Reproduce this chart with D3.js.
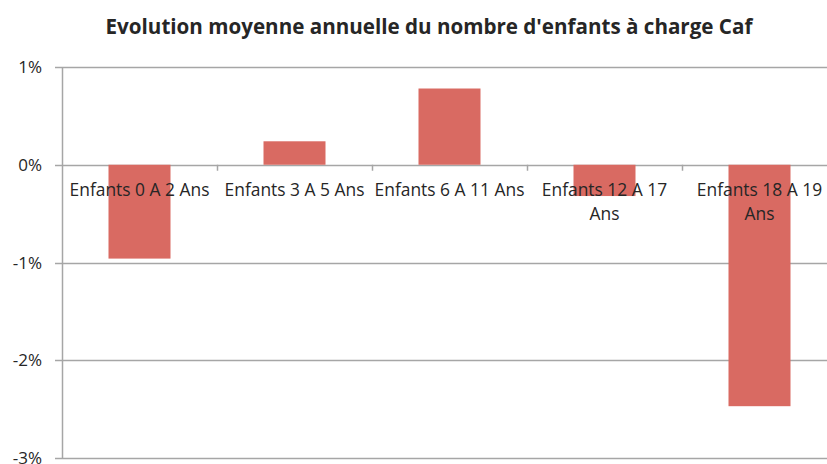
<!DOCTYPE html>
<html>
<head>
<meta charset="utf-8">
<script src="https://cdn.jsdelivr.net/npm/d3@7"></script>
<style>
  body { margin: 0; background: #fff; }
  svg text { font-family: "Open Sans", Lato, sans-serif; fill: #262626; }
</style>
</head>
<body>
<svg id="chart" width="827" height="464"></svg>
<script>
// données
var categories = ["Enfants 0 A 2 Ans", "Enfants 3 A 5 Ans", "Enfants 6 A 11 Ans", "Enfants 12 A 17 Ans", "Enfants 18 A 19 Ans"];
var categoryLines = [["Enfants 0 A 2 Ans"], ["Enfants 3 A 5 Ans"], ["Enfants 6 A 11 Ans"], ["Enfants 12 A 17", "Ans"], ["Enfants 18 A 19", "Ans"]];
var values = [-0.0096, 0.0024, 0.0078, -0.0032, -0.0247];
var yTicks = [0.01, 0, -0.01, -0.02, -0.03];
var title = "Evolution moyenne annuelle du nombre d'enfants à charge Caf";

var svg = d3.select("#chart");
var plotLeft = 62, plotRight = 837, plotTop = 67, plotBottom = 458;

var x = d3.scaleBand().domain(categories).range([plotLeft, plotRight]).paddingInner(0).paddingOuter(0);
var y = d3.scaleLinear().domain([-0.03, 0.01]).range([plotBottom, plotTop]);

/***** Title *****/
svg.append("text")
    .attr("x", 429).attr("y", 34)
    .attr("text-anchor", "middle")
    .attr("font-size", 20.6).attr("font-weight", "bold")
    .text(title);

/***** Grid lines *****/
svg.append("g").selectAll("line")
    .data(yTicks).enter().append("line")
    .attr("x1", plotLeft - 7).attr("x2", 827)
    .attr("y1", function(d) { return Math.round(y(d)) + 0.5; })
    .attr("y2", function(d) { return Math.round(y(d)) + 0.5; })
    .attr("stroke", "#a6a6a6").attr("stroke-width", 1.5);

/***** Y axis *****/
svg.append("line")
    .attr("x1", plotLeft + 0.5).attr("x2", plotLeft + 0.5)
    .attr("y1", y(0.01)).attr("y2", y(-0.03))
    .attr("stroke", "#a6a6a6").attr("stroke-width", 1.5);

svg.append("g").selectAll("text")
    .data(yTicks).enter().append("text")
    .attr("x", 42)
    .attr("y", function(d) { return y(d); })
    .attr("dy", "0.36em")
    .attr("text-anchor", "end")
    .attr("font-size", 17)
    .text(function(d) { return d3.format(".0%")(d).replace("−", "-"); });

/***** Bars *****/
var bw = x.bandwidth() * 0.4;
svg.append("g").selectAll("rect")
    .data(values).enter().append("rect")
    .attr("x", function(d, i) { return x(categories[i]) + (x.bandwidth() - bw) / 2; })
    .attr("y", function(d) { return y(Math.max(0, d)); })
    .attr("width", bw)
    .attr("height", function(d) { return Math.abs(y(d) - y(0)); })
    .attr("fill", "#d96a62");

/***** Category ticks on zero line *****/
svg.append("g").selectAll("line")
    .data(categories.slice(1)).enter().append("line")
    .attr("x1", function(d) { return x(d) + 0.5; })
    .attr("x2", function(d) { return x(d) + 0.5; })
    .attr("y1", y(0)).attr("y2", y(0) + 6)
    .attr("stroke", "#a6a6a6").attr("stroke-width", 1.5);

/***** Category labels *****/
var labels = svg.append("g").selectAll("text")
    .data(categoryLines).enter().append("text")
    .attr("text-anchor", "middle")
    .attr("font-family", "Lato, 'Open Sans', sans-serif")
    .attr("font-size", 17.4)
    .attr("transform", function(d, i) { return "translate(" + (x(categories[i]) + x.bandwidth() / 2) + ",196)"; });

labels.selectAll("tspan")
    .data(function(d) { return d; }).enter().append("tspan")
    .attr("x", 0)
    .attr("y", function(d, i) { return i * 24; })
    .text(function(d) { return d; });
</script>
</body>
</html>
